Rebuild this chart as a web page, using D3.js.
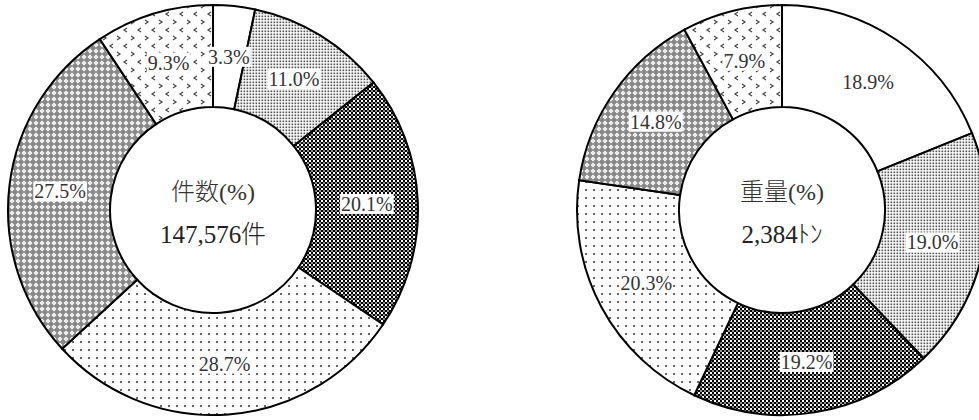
<!DOCTYPE html>
<html>
<head>
<meta charset="utf-8">
<script src="https://cdn.jsdelivr.net/npm/d3@7"></script>
<style>
  html, body { margin: 0; padding: 0; background: #fff; }
  svg { display: block; }
</style>
</head>
<body>
<div id="chart"></div>
<script>
// categories share the same fill pattern in both rings
const categories = ["c1","c2","c3","c4","c5","c6"];
const countValues = [3.3, 11.0, 20.1, 28.7, 27.5, 9.3];
const weightValues = [18.9, 19.0, 19.2, 20.3, 14.8, 7.9];
const countTitle = ["件数(%)", "147,576件"];
const weightTitle = ["重量(%)", "2,384ﾄﾝ"];

const width = 979, height = 420;
const outerR = 205, innerR = 103;
const serifFont = "'Liberation Serif','DejaVu Serif',serif";
const cjkFont = "'Noto Sans CJK JP',sans-serif";

const svg = d3.select('#chart').append('svg')
  .attr('width', width)
  .attr('height', height);

const defs = svg.append('defs');

// build the fill patterns
function pattern(id, w, h) {
  return defs.append('pattern')
    .attr('id', id)
    .attr('patternUnits', 'userSpaceOnUse')
    .attr('width', w)
    .attr('height', h);
}

// fine dots
let p = pattern('p-fine', 3, 3);
p.append('rect').attr('width', 3).attr('height', 3).attr('fill', '#fff');
p.append('rect').attr('x', 0.5).attr('y', 0.5).attr('width', 1.7).attr('height', 1.7).attr('fill', '#555');

// dark checker
p = pattern('p-check', 4, 4);
p.append('rect').attr('width', 4).attr('height', 4).attr('fill', '#fff');
p.append('rect').attr('width', 2).attr('height', 2).attr('fill', '#000');
p.append('rect').attr('x', 2).attr('y', 2).attr('width', 2).attr('height', 2).attr('fill', '#000');
p.append('rect').attr('x', 2).attr('y', 0).attr('width', 2).attr('height', 2).attr('fill', '#222').attr('opacity', 0.5);

// sparse dots
p = pattern('p-dots', 8, 8);
p.append('rect').attr('width', 8).attr('height', 8).attr('fill', '#fff');
p.append('circle').attr('cx', 4).attr('cy', 4).attr('r', 1).attr('fill', '#333');

// diamond lattice
p = pattern('p-diamond', 6, 6);
p.append('rect').attr('width', 6).attr('height', 6).attr('fill', '#888');
p.append('path').attr('d', 'M3,0.5L5.5,3L3,5.5L0.5,3Z').attr('fill', '#fff');
p.append('rect').attr('x', 2.5).attr('y', 2.5).attr('width', 1).attr('height', 1).attr('fill', '#aaa');

// chevrons
p = pattern('p-chev', 14, 16);
p.append('rect').attr('width', 14).attr('height', 16).attr('fill', '#fff');
p.append('path').attr('d', 'M2,2L5,4L2,6').attr('fill', 'none').attr('stroke', '#444').attr('stroke-width', 1.2);
p.append('path').attr('d', 'M12,10L9,12L12,14').attr('fill', 'none').attr('stroke', '#444').attr('stroke-width', 1.2);

const fillScale = d3.scaleOrdinal()
  .domain(categories)
  .range(['#fff', 'url(#p-fine)', 'url(#p-check)', 'url(#p-dots)', 'url(#p-diamond)', 'url(#p-chev)']);

// split a string into serif (latin) and CJK runs
function addRuns(text, str) {
  const runs = str.match(/[\u3000-\u9fff\uff00-\uffef]+|[^\u3000-\u9fff\uff00-\uffef]+/g);
  runs.forEach(r => {
    const cjk = /[\u3000-\u9fff\uff00-\uffef]/.test(r);
    text.append('tspan')
      .style('font-family', cjk ? cjkFont : serifFont)
      .style('font-weight', cjk ? 300 : 400)
      .text(r);
  });
}

function drawDonut(cx, cy, values, title) {
  const data = categories.map((c, i) => ({ cat: c, value: values[i] }));
  const pie = d3.pie().sort(null).value(d => d.value);
  const arcs = pie(data);
  const arc = d3.arc().innerRadius(innerR).outerRadius(outerR);

  const g = svg.append('g').attr('transform', `translate(${cx},${cy})`);

  g.selectAll('path.slice')
    .data(arcs)
    .join('path')
    .attr('class', 'slice')
    .attr('d', arc)
    .attr('fill', d => fillScale(d.data.cat))
    .attr('stroke', '#000')
    .attr('stroke-width', 2);

  // labels with white boxes
  const lab = g.selectAll('g.lab')
    .data(arcs)
    .join('g')
    .attr('class', 'lab')
    .attr('transform', d => `translate(${arc.centroid(d)})`);

  lab.append('rect').attr('fill', '#fff');
  lab.append('text')
    .attr('text-anchor', 'middle')
    .attr('dy', '0.35em')
    .style('font-family', serifFont)
    .style('font-size', '20px')
    .attr('fill', '#333')
    .text(d => d.data.value.toFixed(1) + '%');

  lab.each(function() {
    const gl = d3.select(this);
    const bb = gl.select('text').node().getBBox();
    gl.select('rect')
      .attr('x', bb.x - 1)
      .attr('y', bb.y + 1)
      .attr('width', bb.width + 2)
      .attr('height', bb.height - 2);
  });

  // centre text
  const t1 = g.append('text')
    .attr('text-anchor', 'middle')
    .attr('y', -18)
    .attr('dy', '0.35em')
    .style('font-size', '24px')
    .attr('fill', '#333');
  addRuns(t1, title[0]);
  const t2 = g.append('text')
    .attr('text-anchor', 'middle')
    .attr('y', 24)
    .attr('dy', '0.35em')
    .style('font-size', '25px')
    .attr('fill', '#222');
  addRuns(t2, title[1]);
}

drawDonut(213, 210, countValues, countTitle);
drawDonut(782, 210, weightValues, weightTitle);
</script>
</body>
</html>
